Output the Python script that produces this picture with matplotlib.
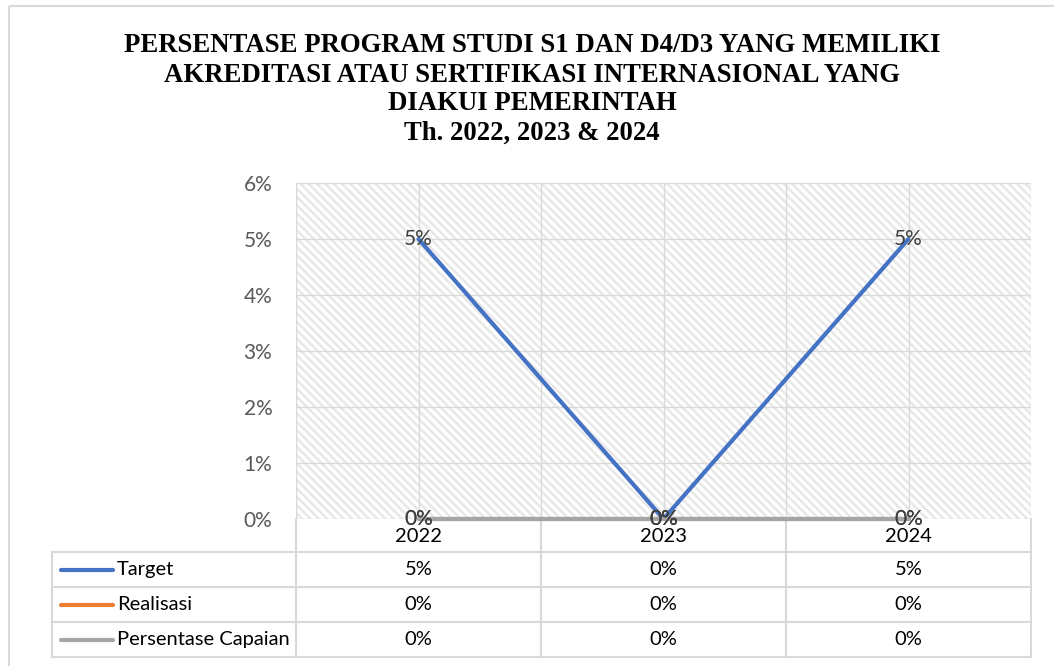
import matplotlib
matplotlib.use("Agg")
import matplotlib.pyplot as plt
from matplotlib.patches import Rectangle
from matplotlib.lines import Line2D
from matplotlib.ticker import FuncFormatter, MultipleLocator

# Data
years = ["2022", "2023", "2024"]
target = [5, 0, 5]
realisasi = [0, 0, 0]
capaian = [0, 0, 0]
series_names = ["Target", "Realisasi", "Persentase Capaian"]
series_colors = ["#4472C4", "#ED7D31", "#A5A5A5"]
title_lines = ["PERSENTASE PROGRAM STUDI S1 DAN D4/D3 YANG MEMILIKI",
               "AKREDITASI ATAU SERTIFIKASI INTERNASIONAL YANG",
               "DIAKUI PEMERINTAH",
               "Th. 2022, 2023 & 2024"]

W, H = 1054, 666
grid_col = "#d9d9d9"
body_font = "Lato"

plt.rcParams["hatch.linewidth"] = 1.8
fig = plt.figure(figsize=(W / 100, H / 100), dpi=100)

# overlay axes in pixel coordinates for frame, title and data table
ov = fig.add_axes([0, 0, 1, 1])
ov.set_xlim(0, W)
ov.set_ylim(H, 0)
ov.axis("off")
ov.add_patch(Rectangle((9, 6), W + 20, H + 20, fill=False, edgecolor=grid_col, linewidth=1.5))

title_y = [46, 75, 104, 133]
for line, y in zip(title_lines, title_y):
    ov.text(532, y, line, ha="center", va="center", fontsize=19.3, fontweight="bold",
            family="Liberation Serif", color="black")

# Plot area
px0, px1, py0, py1 = 296, 1031, 183, 519
ax = fig.add_axes([px0 / W, 1 - py1 / H, (px1 - px0) / W, (py1 - py0) / H])
x = list(range(len(years)))
ax.set_xlim(-0.5, len(years) - 0.5)
ax.set_ylim(0, 6)
ax.add_patch(Rectangle((0, 0), 1, 1, transform=ax.transAxes, facecolor="white",
                       edgecolor="#e8e8e8", hatch="\\\\\\\\", linewidth=0, zorder=0))
for v in [i - 0.5 for i in range(len(years) + 1)] + x:
    ax.axvline(v, color=grid_col, linewidth=1, zorder=1)
for v in range(0, 7):
    ax.axhline(v, color=grid_col, linewidth=1, zorder=1)

for vals, col in zip([target, realisasi, capaian], series_colors):
    ax.plot(x, vals, color=col, linewidth=3, solid_capstyle="round", zorder=3, clip_on=False)
    for xi, v in zip(x, vals):
        ax.text(xi, v, f"{v}%", ha="center", va="center", fontsize=15,
                family=body_font, color="#404040", zorder=4)

ax.yaxis.set_major_locator(MultipleLocator(1))
ax.yaxis.set_major_formatter(FuncFormatter(lambda v, p: f"{int(v)}%"))
ax.tick_params(axis="y", length=0, pad=17, labelsize=15, labelcolor="#595959")
for lab in ax.get_yticklabels():
    lab.set_family(body_font)
ax.set_xticks([])
for s in ax.spines.values():
    s.set_visible(False)

# Data table below the plot
col_w = (px1 - px0) / len(years)
col_edges = [px0 + i * col_w for i in range(len(years) + 1)]
row_edges = [519, 552, 587, 622, 657]
tab_left = 52
for ce in col_edges:
    ov.add_line(Line2D([ce, ce], [row_edges[0], row_edges[-1]], color=grid_col, linewidth=1.5))
ov.add_line(Line2D([tab_left, tab_left], [row_edges[1], row_edges[-1]], color=grid_col, linewidth=1.5))
for re in row_edges[1:]:
    ov.add_line(Line2D([tab_left, px1], [re, re], color=grid_col, linewidth=1.5))

for i, yr in enumerate(years):
    ov.text(px0 + (i + 0.5) * col_w, 536, yr, ha="center", va="center", fontsize=14.5,
            family=body_font, color="black")

for r, (name, col, vals) in enumerate(zip(series_names, series_colors, [target, realisasi, capaian])):
    yc = (row_edges[r + 1] + row_edges[r + 2]) / 2
    ov.add_line(Line2D([61, 113], [yc, yc], color=col, linewidth=3, solid_capstyle="round"))
    ov.text(117, yc, name, ha="left", va="center", fontsize=14.5, family=body_font, color="black")
    for i, v in enumerate(vals):
        ov.text(px0 + (i + 0.5) * col_w, yc, f"{v}%", ha="center", va="center", fontsize=14.5,
                family=body_font, color="black")

fig.savefig("out.png", dpi=100)
